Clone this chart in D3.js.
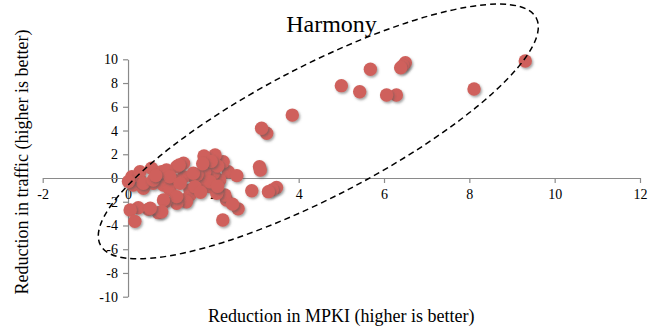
<!DOCTYPE html>
<html>
<head>
<meta charset="utf-8">
<script src="https://cdn.jsdelivr.net/npm/d3@7"></script>
<style>
  html, body { margin: 0; padding: 0; background: #fff; }
  svg { display: block; }
  text { font-family: "Liberation Serif", "Times New Roman", serif; fill: #000; }
</style>
</head>
<body>
<svg id="chart" width="657" height="331"></svg>
<script>
// ---- data ----
const title = "Harmony";
const xLabel = "Reduction in MPKI (higher is better)";
const yLabel = "Reduction in traffic (higher is better)";
const xTicks = [-2, 0, 2, 4, 6, 8, 10, 12];
const yTicks = [-10, -8, -6, -4, -2, 0, 2, 4, 6, 8, 10];

const mpki = [
  9.31, 8.11, 6.50, 6.44, 6.39, 6.29, 6.06, 5.68, 5.43, 5.00,
  3.85, 3.25, 3.13, 3.08, 3.10, 3.48, 3.38, 3.29, 2.90, 2.58,
  2.22, 2.31, 2.27, 2.35, 2.55, 2.23, 2.04, 1.78, 2.15, 2.00,
  1.80, 1.53, 1.30, 1.69, 1.92, 1.45, 1.45, 1.30, 1.37, 1.14,
  0.87, 0.71, 0.48, 0.24, 0.05, 0.16, 2.08, 1.92, 1.62, 0.12,
  0.36, 0.28, 0.59, 0.83, 1.06, 1.30, 1.53, 0.98, 0.09, 0.28,
  0.55, 0.79, 0.90, 1.14, 1.20, 0.36, 0.59, 0.98, 1.22, 1.57,
  1.14, 0.83, 0.79, 0.52, 0.01, 2.10, 1.95, 2.45, 1.75, 0.65,
  1.70, 2.10
];
const traffic = [
  9.86, 7.50, 9.71, 9.45, 9.29, 6.99, 6.99, 9.16, 7.27, 7.78,
  5.30, 3.77, 4.19, 0.95, 0.67, -0.80, -1.00, -1.15, -1.07, -2.60,
  -3.54, -1.85, -1.43, 0.53, 0.20, 1.37, 1.94, 1.85, -0.17, 0.40,
  0.53, 0.11, 1.24, -0.50, -0.73, -1.00, -1.43, -1.85, -2.00, -2.13,
  -2.00, -2.92, -2.64, -2.50, -2.70, -3.65, -1.29, -0.31, 0.30, -0.59,
  -0.87, -0.17, -0.45, -0.59, -0.17, 0.11, 0.40, -1.00, 0.11, 0.53,
  0.82, 0.53, 0.67, 0.95, 1.10, -0.45, -0.17, 0.11, -0.45, -0.73,
  -1.57, -1.85, -2.84, -2.55, -0.30, 1.00, 1.40, -2.20, 1.20, 0.20,
  -1.20, -0.70
];
// annotation ellipse (centre in data units)
const ellipseCentre = [4.46, 3.92];

// ---- layout ----
const svg = d3.select("#chart");
const x = d3.scaleLinear().domain([-2, 12]).range([42.7, 640]);
const y = d3.scaleLinear().domain([-10, 10]).range([296.7, 59.3]);
const serif = '"Liberation Serif", "Times New Roman", serif';

const defs = svg.append("defs");
const f = defs.append("filter").attr("id", "shadow")
  .attr("x", "-50%").attr("y", "-50%").attr("width", "200%").attr("height", "200%");
f.append("feDropShadow").attr("dx", 1.3).attr("dy", 1.6).attr("stdDeviation", 1.1)
  .attr("flood-color", "#555").attr("flood-opacity", 0.55);

const axisColor = "#8a8a8a";

// y axis at x = 0
const gy = svg.append("g").attr("transform", `translate(${x(0)},0)`)
  .call(d3.axisLeft(y).tickValues(yTicks).tickSize(5).tickSizeOuter(0).tickPadding(5)
        .tickFormat(d3.format("d")));
// x axis at y = 0
const gx = svg.append("g").attr("transform", `translate(0,${y(0)})`)
  .call(d3.axisBottom(x).tickValues(xTicks).tickSize(5).tickSizeOuter(0).tickPadding(6)
        .tickFormat(d3.format("d")));

[gx, gy].forEach(g => {
  g.attr("font-family", serif).attr("font-size", 14);
  g.select(".domain").attr("stroke", axisColor).attr("stroke-width", 1.2);
  g.selectAll(".tick line").attr("stroke", axisColor).attr("stroke-width", 1.2);
  g.selectAll(".tick text").attr("font-size", 14).attr("fill", "#222")
    .style("font-family", serif);
});
gx.selectAll(".tick text").text(d => d < 0 ? "-" + Math.abs(d) : d);
gy.selectAll(".tick text").text(d => d < 0 ? "-" + Math.abs(d) : d);

// points
svg.append("g").selectAll("circle")
  .data(mpki.map((m, i) => ({ m, t: traffic[i] })))
  .join("circle")
  .attr("cx", d => x(d.m))
  .attr("cy", d => y(d.t))
  .attr("r", 6.7)
  .attr("fill", "#cf615b")
  .attr("filter", "url(#shadow)");

// dashed ellipse annotation
svg.append("ellipse")
  .attr("transform", `translate(${x(ellipseCentre[0])},${y(ellipseCentre[1])}) rotate(-27.5)`)
  .attr("rx", 245.7).attr("ry", 65.3)
  .attr("fill", "none").attr("stroke", "#000").attr("stroke-width", 1.5)
  .attr("stroke-dasharray", "6,4");

// title
svg.append("text").attr("x", 331.5).attr("y", 32)
  .attr("text-anchor", "middle").attr("font-size", 24).text(title);

// axis titles
svg.append("text").attr("x", 341.3).attr("y", 322)
  .attr("text-anchor", "middle").attr("font-size", 18).text(xLabel);
svg.append("text")
  .attr("transform", "translate(28,162) rotate(-90)")
  .attr("text-anchor", "middle").attr("font-size", 18).text(yLabel);
</script>
</body>
</html>
